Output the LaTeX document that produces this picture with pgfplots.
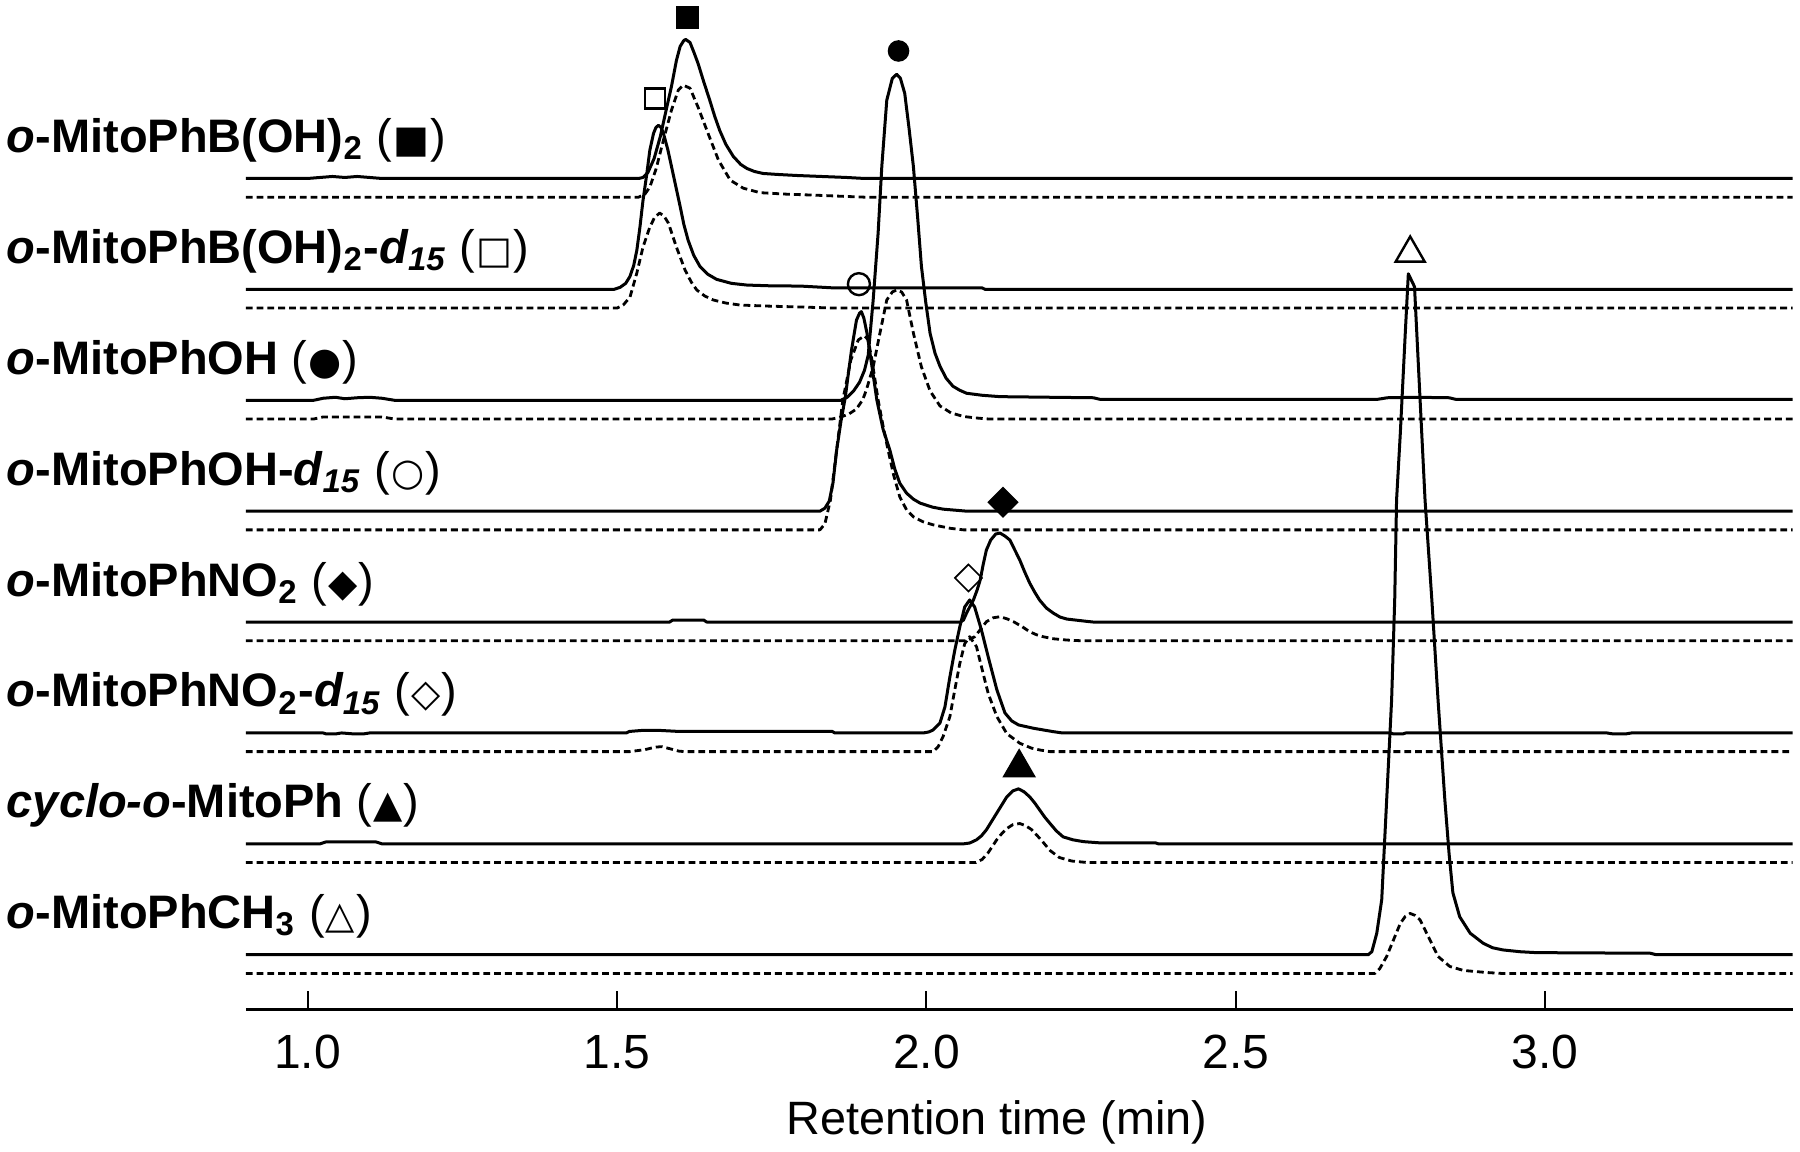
\documentclass[border=0pt]{standalone}
\usepackage{fontspec}
\setmainfont{Liberation Sans}
\newfontfamily\symfont{DejaVu Sans}
\usepackage{pgfplots}
\pgfplotsset{compat=1.18}

% 1 px of the reference = 0.25pt, y data = px above the time axis
\newcommand{\lab}{\fontsize{11.75}{14}\selectfont\bfseries}
\newcommand{\sy}[1]{{\mdseries(\kern0.3pt{\symfont\fontsize{9.5}{10}\selectfont #1}\kern0.3pt)}}

\pgfplotsset{
  trace/.style={black, line width=0.75pt, line join=round, mark=none},
  ref/.style={trace, line width=0.7pt, dash pattern=on 1.7pt off 1pt},
}

\begin{document}
\begin{tikzpicture}
\begin{axis}[
    width=386.7pt, height=252.5pt, scale only axis,
    xmin=0.9, xmax=3.4, ymin=0, ymax=1010,
    axis x line*=bottom, axis y line=none,
    axis line style={line width=0.75pt},
    xtick={1,1.5,2,2.5,3},
    xticklabels={1.0,1.5,2.0,2.5,3.0},
    tick align=inside,
    major tick length=4.75pt,
    xtick style={line width=0.45pt, black},
    xticklabel style={font=\fontsize{12}{14}\selectfont, anchor=base, yshift=-14.6pt},
    ytick=\empty,
    clip=false,
]

% o-MitoPhB(OH)2
\addplot[trace, y filter/.expression={y+831.5}] coordinates {
(0.90,0)(1.00,0)(1.02,1)(1.04,2)(1.06,1)(1.08,2)(1.10,1)(1.12,0)(1.535,0)(1.542,1)(1.550,6)(1.560,20)(1.570,42)(1.580,70)(1.588,92)(1.596,118)(1.602,132)(1.608,138)(1.611,139)(1.618,136)(1.625,125)(1.631,115)(1.640,97)(1.650,78)(1.658,62)(1.666,48)(1.676,34)(1.688,22)(1.700,14)(1.710,10)(1.722,7)(1.736,5)(1.760,4)(1.790,3)(1.830,2)(1.871,1)(1.90,0)(3.40,0)};
\addplot[ref, y filter/.expression={y+812.8}] coordinates {
(0.90,0)(1.535,0)(1.545,3)(1.553,10)(1.563,28)(1.575,57)(1.588,87)(1.599,107)(1.607,112)(1.618,109)(1.631,90)(1.647,64)(1.664,37)(1.683,17)(1.704,9)(1.731,4.5)(1.774,3)(1.82,2)(1.871,0.7)(1.90,0)(3.40,0)};

% o-MitoPhB(OH)2-d15
\addplot[trace, y filter/.expression={y+720.6}] coordinates {
(0.90,0)(1.495,0)(1.505,2)(1.514,6)(1.521,13)(1.527,24)(1.532,39)(1.537,62)(1.542,89)(1.548,115)(1.553,139)(1.559,156)(1.563,162)(1.567,164)(1.571,162)(1.575,156)(1.582,140)(1.588,123)(1.595,103)(1.602,83)(1.608,65)(1.615,49)(1.624,34)(1.634,23)(1.647,15)(1.661,10)(1.685,6)(1.710,4.3)(1.75,3.5)(1.796,3.3)(1.849,1.5)(2.09,1.5)(2.095,0)(3.40,0)};
\addplot[ref, y filter/.expression={y+701.9}] coordinates {
(0.90,0)(1.500,0)(1.510,3)(1.521,11)(1.532,35)(1.542,61)(1.553,81)(1.561,91)(1.569,95)(1.576,92)(1.583,85)(1.596,61)(1.610,38)(1.620,26)(1.629,18)(1.642,12)(1.656,8)(1.676,5)(1.699,3)(1.742,2)(1.80,1)(1.85,0)(3.40,0)};

% o-MitoPhOH
\addplot[trace, y filter/.expression={y+609.7}] coordinates {
(0.90,0)(1.010,0)(1.025,2)(1.045,3)(1.060,1.5)(1.080,2.5)(1.100,3)(1.120,2)(1.140,0)(1.862,0)(1.872,3)(1.882,9)(1.892,18)(1.900,30)(1.906,45)(1.914,100)(1.922,167)(1.928,234)(1.936,300)(1.945,322)(1.952,326)(1.958,322)(1.965,307)(1.972,272)(1.979,234)(1.986,182)(1.992,134)(1.999,98)(2.006,67)(2.014,47)(2.022,34)(2.032,22)(2.043,14)(2.054,10)(2.065,7)(2.09,5)(2.119,3.6)(2.20,3)(2.27,2.5)(2.28,1)(2.73,1)(2.745,2.5)(2.79,3)(2.845,2.5)(2.855,1)(3.40,1)};
\addplot[ref, y filter/.expression={y+591}] coordinates {
(0.90,0)(1.010,0)(1.025,2)(1.12,2)(1.14,0)(1.848,0)(1.862,2)(1.875,5)(1.887,10)(1.897,19)(1.903,29)(1.914,52)(1.925,86)(1.936,119)(1.945,127)(1.952,129)(1.960,127)(1.968,119)(1.979,86)(1.992,52)(2.006,28)(2.022,13)(2.040,6)(2.060,2.5)(2.080,1)(2.10,0)(3.40,0)};

% o-MitoPhOH-d15
\addplot[trace, y filter/.expression={y+498.8}] coordinates {
(0.90,0)(1.828,0)(1.836,3)(1.843,10)(1.849,28)(1.855,61)(1.862,90)(1.869,114)(1.874,138)(1.879,161)(1.887,191)(1.892,198)(1.895,199.5)(1.899,193)(1.904,178)(1.912,145)(1.920,111)(1.930,82)(1.941,61)(1.949,42)(1.957,28)(1.968,18)(1.979,12)(1.990,8)(2.010,4)(2.027,2)(2.065,0)(3.40,0)};
\addplot[ref, y filter/.expression={y+480.1}] coordinates {
(0.90,0)(1.828,0)(1.836,6)(1.845,30)(1.855,80)(1.865,130)(1.878,170)(1.890,190)(1.900,194)(1.906,190)(1.912,170)(1.922,130)(1.930,104)(1.938,80)(1.947,55)(1.957,33)(1.968,20)(1.979,13)(1.995,8)(2.011,5)(2.038,1.6)(2.06,0)(3.40,0)};

% o-MitoPhNO2
\addplot[trace, y filter/.expression={y+387.9}] coordinates {
(0.90,0)(1.585,0)(1.590,2)(1.640,2)(1.645,0)(2.055,0)(2.060,2)(2.065,9)(2.070,15)(2.076,22)(2.082,32)(2.087,42)(2.092,58)(2.097,72)(2.104,82)(2.112,88)(2.119,89)(2.127,86)(2.135,82)(2.143,72)(2.151,62)(2.159,50)(2.167,39)(2.175,30)(2.183,22)(2.194,14)(2.205,9)(2.216,5)(2.227,3)(2.259,0.7)(2.27,0)(3.40,0)};
\addplot[ref, y filter/.expression={y+369.2}] coordinates {
(0.90,0)(2.065,0)(2.078,4)(2.089,12.5)(2.097,19)(2.108,23)(2.119,24)(2.130,22)(2.141,19)(2.155,14)(2.167,9)(2.178,6)(2.189,4)(2.205,2)(2.227,0.7)(2.25,0)(3.40,0)};

% o-MitoPhNO2-d15
\addplot[trace, y filter/.expression={y+277}] coordinates {
(0.90,0)(1.025,0)(1.030,-1)(1.045,-1)(1.055,0)(1.075,-1)(1.090,-1)(1.100,0)(1.515,0)(1.520,1.5)(1.540,2.5)(1.570,2.5)(1.600,1.5)(1.848,1.5)(1.852,0)(1.995,0)(2.004,1)(2.011,3)(2.022,10)(2.030,26)(2.038,56)(2.046,83)(2.054,106)(2.062,126)(2.070,133)(2.078,126)(2.089,103)(2.100,76)(2.114,43)(2.127,20)(2.138,12)(2.149,8)(2.173,4.7)(2.205,1.3)(2.22,0)(2.75,0)(2.755,-1)(2.77,-1)(2.775,0)(3.10,0)(3.11,-1)(3.13,-1)(3.14,0)(3.40,0)};
\addplot[ref, y filter/.expression={y+258.3}] coordinates {
(0.90,0)(1.520,0)(1.545,2)(1.562,4.5)(1.572,5)(1.585,3)(1.600,0.5)(1.610,0)(2.011,0)(2.019,5)(2.027,15)(2.038,35)(2.046,62)(2.054,88)(2.062,108)(2.070,115)(2.081,105)(2.089,85)(2.100,58)(2.114,35)(2.130,18)(2.151,8.4)(2.170,3.5)(2.183,1.7)(2.20,0)(3.40,0)};

% cyclo-o-MitoPh
\addplot[trace, y filter/.expression={y+166.1}] coordinates {
(0.90,0)(1.020,0)(1.030,2)(1.110,2)(1.120,0)(2.060,0)(2.070,0.8)(2.081,4)(2.089,8)(2.097,14)(2.105,22)(2.114,31)(2.122,39)(2.130,47)(2.140,53)(2.149,55)(2.158,52)(2.167,47)(2.175,41)(2.183,34)(2.191,27)(2.199,21)(2.210,13)(2.221,7)(2.237,4)(2.254,2.2)(2.280,1)(2.37,1)(2.375,0)(3.40,0)};
\addplot[ref, y filter/.expression={y+147.4}] coordinates {
(0.90,0)(2.080,0)(2.090,3)(2.100,10)(2.114,23)(2.122,29)(2.130,34)(2.140,38)(2.151,39)(2.160,37)(2.170,33)(2.185,23)(2.200,12)(2.215,5)(2.235,1.5)(2.26,0)(3.40,0)};

% o-MitoPhCH3
\addplot[trace, y filter/.expression={y+55.2}] coordinates {
(0.90,0)(2.714,0)(2.720,3)(2.728,21.5)(2.736,55)(2.744,155)(2.752,255)(2.757,355)(2.760,455)(2.766,521)(2.774,621)(2.779,681)(2.789,668)(2.798,555)(2.806,455)(2.817,355)(2.827,255)(2.838,155)(2.845,100)(2.851,62)(2.862,38)(2.879,21.5)(2.900,11.5)(2.915,7)(2.932,4.8)(2.960,3)(2.986,2.1)(3.170,1.5)(3.180,0)(3.40,0)};
\addplot[ref, y filter/.expression={y+36.5}] coordinates {
(0.90,0)(2.725,0)(2.733,5)(2.744,17)(2.755,33.5)(2.766,50)(2.774,57)(2.782,60)(2.790,58)(2.798,53.5)(2.814,33.5)(2.827,17)(2.846,7)(2.868,3)(2.904,1)(2.93,0)(3.40,0)};

% peak markers
\addplot[only marks, mark=square*, mark size=2.625pt] coordinates {(1.614,992.2)};
\addplot[only marks, mark=square, mark size=2.5pt, mark options={fill=white, line width=0.6pt}] coordinates {(1.561,911.5)};
\addplot[only marks, mark=*, mark size=2.5pt] coordinates {(1.955,959)};
\addplot[only marks, mark=o, mark size=2.75pt, mark options={line width=0.6pt}] coordinates {(1.891,725.8)};
\addplot[only marks, mark=square*, mark size=2.56pt, mark options={rotate=45}] coordinates {(2.124,507.7)};
\addplot[only marks, mark=square, mark size=2.39pt, mark options={rotate=45, fill=white, line width=0.4pt}] coordinates {(2.068,432)};
\addplot[only marks, mark=triangle*, mark size=4.47pt] coordinates {(2.150,242.2)};
\addplot[only marks, mark=triangle, mark size=4.19pt, mark options={line width=0.6pt}] coordinates {(2.782,756.7)};

% trace labels
\begin{scope}[every node/.style={anchor=base west, inner sep=0pt}]
\node at (axis cs:0.5124,857.5) {\lab\textit{o}-MitoPhB(OH)\textsubscript{2} \sy{■}};
\node at (axis cs:0.5124,746.6) {\lab\textit{o}-MitoPhB(OH)\textsubscript{2}-\textit{d\textsubscript{15}} \sy{□}};
\node at (axis cs:0.5124,635.7) {\lab\textit{o}-MitoPhOH \sy{●}};
\node at (axis cs:0.5124,524.8) {\lab\textit{o}-MitoPhOH-\textit{d\textsubscript{15}} \sy{○}};
\node at (axis cs:0.5124,413.9) {\lab\textit{o}-MitoPhNO\textsubscript{2} \sy{◆}};
\node at (axis cs:0.5124,303) {\lab\textit{o}-MitoPhNO\textsubscript{2}-\textit{d\textsubscript{15}} \sy{◇}};
\node at (axis cs:0.5124,192.1) {\lab\textit{cyclo-o}-MitoPh \sy{▲}};
\node at (axis cs:0.5124,81.2) {\lab\textit{o}-MitoPhCH\textsubscript{3} \sy{△}};
\end{scope}

\node[anchor=base, inner sep=0pt, font=\fontsize{11.7}{14}\selectfont] at (axis cs:2.114,-125) {Retention time (min)};

% page frame of the reference
\path (axis cs:0.5027,-142) rectangle (axis cs:3.4121,1010);
\end{axis}
\end{tikzpicture}
\end{document}
